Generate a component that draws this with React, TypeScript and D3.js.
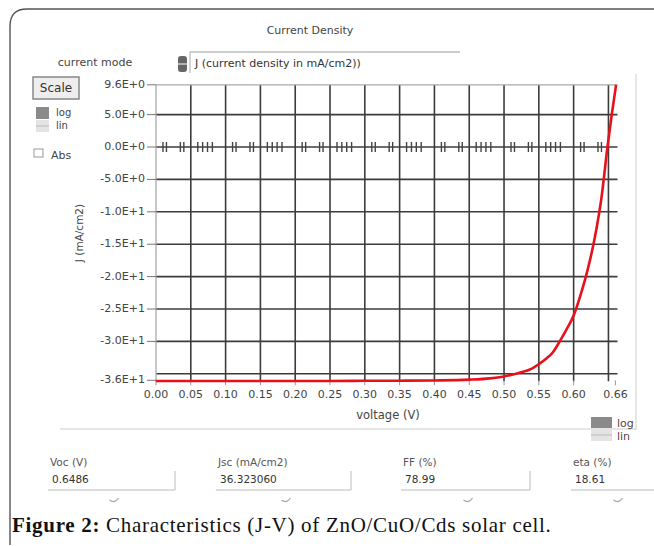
import React, { useRef, useEffect } from 'react';
import * as d3 from 'd3';

// J-V curve
const voltage = [0, 0.05, 0.1, 0.15, 0.2, 0.25, 0.3, 0.35, 0.4, 0.45, 0.48, 0.5, 0.52, 0.54, 0.55, 0.56, 0.57, 0.58, 0.59, 0.6, 0.61, 0.62, 0.63, 0.64, 0.6486, 0.655, 0.661];
const currentDensity = [-36.1, -36.1, -36.1, -36.1, -36.1, -36.1, -36.08, -36.06, -36.02, -35.9, -35.7, -35.4, -34.9, -34.2, -33.5, -32.7, -31.7, -30.0, -28.1, -26.0, -22.8, -19.0, -14.2, -7.8, 0, 5.2, 9.6];

const xGridValues = [0.05, 0.1, 0.15, 0.2, 0.25, 0.3, 0.35, 0.4, 0.45, 0.5, 0.55, 0.6, 0.65];
const xTickValues = [0, 0.05, 0.1, 0.15, 0.2, 0.25, 0.3, 0.35, 0.4, 0.45, 0.5, 0.55, 0.6, 0.66];
const xTickLabels = ["0.00", "0.05", "0.10", "0.15", "0.20", "0.25", "0.30", "0.35", "0.40", "0.45", "0.50", "0.55", "0.60", "0.66"];

const yGridValues = [5, 0, -5, -10, -15, -20, -25, -30, -35];
const yTickValues = [9.6, 5, 0, -5, -10, -15, -20, -25, -30, -36];
const yTickLabels = ["9.6E+0", "5.0E+0", "0.0E+0", "-5.0E+0", "-1.0E+1", "-1.5E+1", "-2.0E+1", "-2.5E+1", "-3.0E+1", "-3.6E+1"];

// little marks strung along the zero line, alternating "II II" and "IIII"
const zeroMarkPatterns = [[0.01, 0.015, 0.035, 0.04], [0.01, 0.017, 0.024, 0.031]];

const resultLabels = ["Voc (V)", "Jsc (mA/cm2)", "FF  (%)", "eta (%)"];
const resultValues = ["0.6486", "36.323060", "78.99", "18.61"];
const resultX = [50, 218, 403, 573];
const resultRight = [175, 351, 530, 660];

const uiFont = '"DejaVu Sans", Verdana, sans-serif';

const App = () => {
  const svgRef = useRef(null);
  const width = 654;
  const height = 546;

  useEffect(() => {
    const svg = d3.select(svgRef.current);
    svg.selectAll("*").remove();

    const x = d3.scaleLinear().domain([0, 0.66]).range([156, 615.4]);
    const y = d3.scaleLinear().domain([-36, 9.6]).range([380.3, 84.8]);

    svg.append("rect").attr("width", width).attr("height", height).attr("fill", "#fff");

    // outer rounded frame
    svg.append("path")
      .attr("d", "M10,545 L10,26 Q10,9 27,9 L654,9")
      .attr("fill", "none").attr("stroke", "#555").attr("stroke-width", 1.4);

    const txt = (tx, ty, s, opts = {}) => svg.append("text")
      .attr("x", tx).attr("y", ty)
      .attr("font-family", uiFont)
      .attr("font-size", opts.size || 11)
      .attr("fill", opts.fill || "#444")
      .attr("text-anchor", opts.anchor || "start")
      .attr("dominant-baseline", "middle")
      .text(s);

    // header controls
    txt(310, 31, "Current Density", { anchor: "middle" });
    txt(95, 63, "current mode", { anchor: "middle" });
    svg.append("line").attr("x1", 190).attr("x2", 460).attr("y1", 52).attr("y2", 52).attr("stroke", "#999");
    svg.append("line").attr("x1", 190).attr("x2", 190).attr("y1", 52).attr("y2", 73).attr("stroke", "#aaa");
    svg.append("rect").attr("x", 178).attr("y", 56).attr("width", 9).attr("height", 16).attr("rx", 3).attr("fill", "#666");
    svg.append("line").attr("x1", 178).attr("x2", 187).attr("y1", 64).attr("y2", 64).attr("stroke", "#fff");
    txt(195, 64, "J (current density in mA/cm2))", { fill: "#333" });

    svg.append("rect").attr("x", 33).attr("y", 77).attr("width", 46).attr("height", 22)
      .attr("fill", "#eee").attr("stroke", "#888").attr("stroke-width", 1.5);
    txt(56, 88.5, "Scale", { anchor: "middle", size: 12, fill: "#333" });

    svg.append("rect").attr("x", 36).attr("y", 107).attr("width", 13).attr("height", 12).attr("fill", "#8a8a8a");
    svg.append("rect").attr("x", 36).attr("y", 120).attr("width", 13).attr("height", 12).attr("fill", "#e4e4e4");
    svg.append("line").attr("x1", 36).attr("x2", 49).attr("y1", 126).attr("y2", 126).attr("stroke", "#bbb");
    txt(56, 113, "log", { size: 10 });
    txt(56, 126, "lin", { size: 10 });
    svg.append("rect").attr("x", 34).attr("y", 149).attr("width", 9).attr("height", 8).attr("fill", "none").attr("stroke", "#999");
    txt(51, 156, "Abs");

    // y axis label
    svg.append("text")
      .attr("transform", "translate(80,233) rotate(-90)")
      .attr("font-family", uiFont).attr("font-size", 10.5).attr("fill", "#444")
      .attr("text-anchor", "middle").attr("dominant-baseline", "middle")
      .text("J (mA/cm2)");

    // grid
    const xEnd = x(0.663);
    svg.append("g").selectAll("line").data(yGridValues).join("line")
      .attr("x1", x(0)).attr("x2", xEnd)
      .attr("y1", d => y(d)).attr("y2", d => y(d))
      .attr("stroke", "#3c3c3c").attr("stroke-width", 1.6);
    svg.append("g").selectAll("line").data(xGridValues).join("line")
      .attr("x1", d => x(d)).attr("x2", d => x(d))
      .attr("y1", y(9.6)).attr("y2", y(-36) + 1)
      .attr("stroke", "#3c3c3c").attr("stroke-width", 1.6);
    // light frame: top and left
    svg.append("line").attr("x1", x(0)).attr("x2", xEnd).attr("y1", y(9.6)).attr("y2", y(9.6)).attr("stroke", "#aaa").attr("stroke-width", 1.3);
    svg.append("line").attr("x1", x(0)).attr("x2", x(0)).attr("y1", y(9.6)).attr("y2", y(-36) + 2).attr("stroke", "#aaa").attr("stroke-width", 1.3);

    // marks on zero line
    const zeroMarks = [];
    xTickValues.slice(0, 13).forEach((v, i) => {
      zeroMarkPatterns[i % 2].forEach(o => zeroMarks.push(v + o));
    });
    svg.append("g").selectAll("line").data(zeroMarks).join("line")
      .attr("x1", d => x(d)).attr("x2", d => x(d))
      .attr("y1", y(0) - 5).attr("y2", y(0) + 5)
      .attr("stroke", "#444").attr("stroke-width", 1.4);

    // y ticks
    const yAxis = svg.append("g");
    yTickValues.forEach((v, i) => {
      yAxis.append("line").attr("x1", 147).attr("x2", x(0)).attr("y1", y(v)).attr("y2", y(v)).attr("stroke", "#777");
      yAxis.append("text")
        .attr("x", 145).attr("y", y(v))
        .attr("font-family", uiFont).attr("font-size", 11).attr("fill", "#444")
        .attr("text-anchor", "end").attr("dominant-baseline", "middle")
        .text(yTickLabels[i]);
    });

    // x ticks
    const xAxis = svg.append("g");
    xTickValues.forEach((v, i) => {
      xAxis.append("line").attr("x1", x(v)).attr("x2", x(v)).attr("y1", y(-36)).attr("y2", y(-36) + 5).attr("stroke", "#999");
      xAxis.append("text")
        .attr("x", x(v)).attr("y", 395)
        .attr("font-family", uiFont).attr("font-size", 11).attr("fill", "#444")
        .attr("text-anchor", "middle").attr("dominant-baseline", "middle")
        .text(xTickLabels[i]);
    });
    txt(388, 415, "voltage (V)", { anchor: "middle", size: 11.5 });

    // J-V curve
    const line = d3.line()
      .x(d => x(d[0]))
      .y(d => y(d[1]))
      .curve(d3.curveMonotoneX);
    svg.append("path")
      .attr("d", line(voltage.map((v, i) => [v, currentDensity[i]])))
      .attr("fill", "none").attr("stroke", "#e8101a").attr("stroke-width", 2.6);

    // right panel line, separator, bottom log/lin
    svg.append("line").attr("x1", 636).attr("x2", 636).attr("y1", 74).attr("y2", 430).attr("stroke", "#ccc");
    svg.append("line").attr("x1", 60).attr("x2", 636).attr("y1", 429).attr("y2", 429).attr("stroke", "#ccc");
    svg.append("rect").attr("x", 591).attr("y", 417).attr("width", 21).attr("height", 11).attr("fill", "#8a8a8a");
    svg.append("rect").attr("x", 591).attr("y", 429).attr("width", 21).attr("height", 12).attr("fill", "#e4e4e4");
    svg.append("line").attr("x1", 591).attr("x2", 612).attr("y1", 435).attr("y2", 435).attr("stroke", "#bbb");
    txt(617, 424, "log", { fill: "#544" });
    txt(617, 437, "lin", { fill: "#544" });

    // result fields
    resultLabels.forEach((lab, i) => {
      const fx = resultX[i];
      txt(fx, 463, lab, { size: 10.5, fill: "#555" });
      txt(fx + 2, 480, resultValues[i], { size: 10.5, fill: "#333" });
      svg.append("line").attr("x1", fx - 2).attr("x2", resultRight[i]).attr("y1", 490).attr("y2", 490).attr("stroke", "#bbb");
      svg.append("line").attr("x1", resultRight[i]).attr("x2", resultRight[i]).attr("y1", 471).attr("y2", 490).attr("stroke", "#bbb");
      const cx = (fx + Math.min(resultRight[i], 700)) / 2 + 2;
      svg.append("path")
        .attr("d", `M${cx - 5},500 Q${cx},504 ${cx + 4},498`)
        .attr("fill", "none").attr("stroke", "#aaa").attr("stroke-width", 1.3);
    });

    // caption
    const cap = svg.append("text")
      .attr("x", 12).attr("y", 532)
      .attr("font-family", '"Liberation Serif", "Times New Roman", serif')
      .attr("font-size", 21).attr("letter-spacing", 0.7).attr("fill", "#111");
    cap.append("tspan").attr("font-weight", "bold").text("Figure 2:");
    cap.append("tspan").text(" Characteristics (J-V) of ZnO/CuO/Cds solar cell.");
  }, []);

  return (
    <svg ref={svgRef} width={width} height={height}
      style={{ position: "absolute", left: 0, top: 0, display: "block" }} />
  );
};

export default App;
